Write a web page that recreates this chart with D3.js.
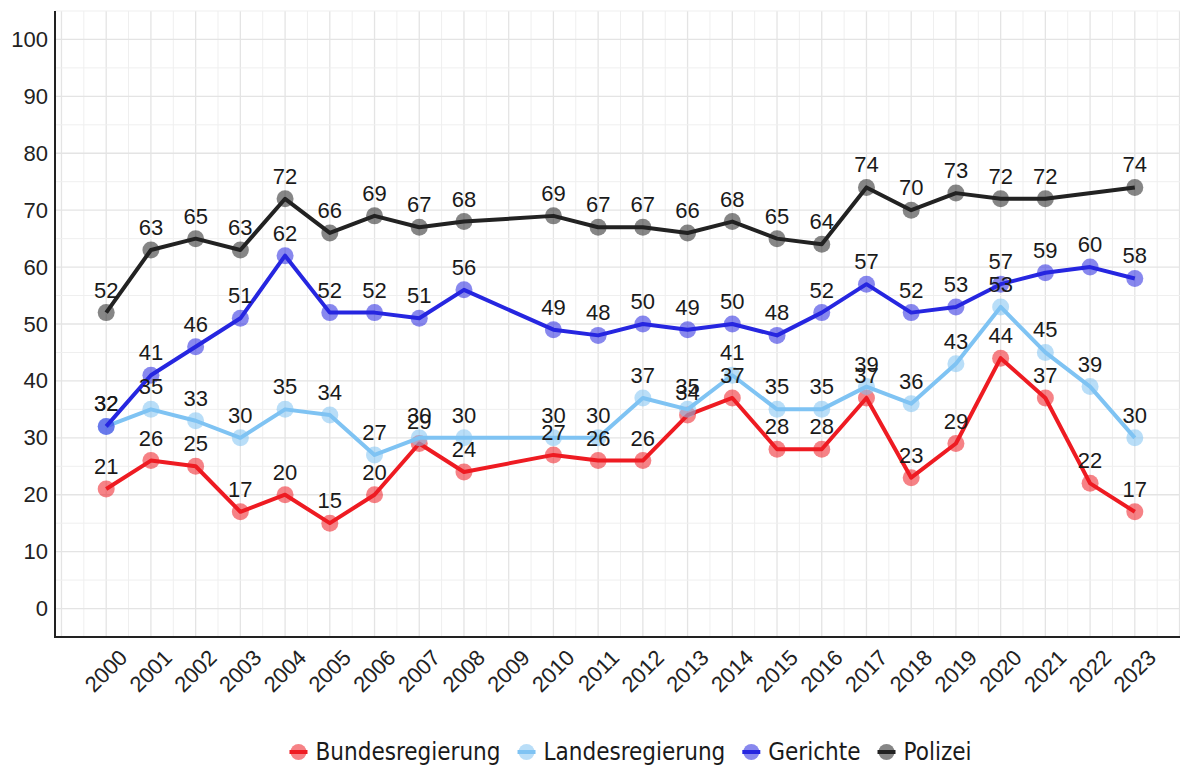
<!DOCTYPE html>
<html>
<head>
<meta charset="utf-8">
<script src="https://cdn.jsdelivr.net/npm/d3@7"></script>
<style>
  body { margin: 0; background: #fff; }
  svg { display: block; }
</style>
</head>
<body>
<script>
// data (2009 has no survey)
const years = ["2000","2001","2002","2003","2004","2005","2006","2007","2008","2009","2010","2011",
               "2012","2013","2014","2015","2016","2017","2018","2019","2020","2021","2022","2023"];
const bundesregierung = [21,26,25,17,20,15,20,29,24,null,27,26,26,34,37,28,28,37,23,29,44,37,22,17];
const landesregierung = [32,35,33,30,35,34,27,30,30,null,30,30,37,35,41,35,35,39,36,43,53,45,39,30];
const gerichte        = [32,41,46,51,62,52,52,51,56,null,49,48,50,49,50,48,52,57,52,53,57,59,60,58];
const polizei         = [52,63,65,63,72,66,69,67,68,null,69,67,67,66,68,65,64,74,70,73,72,72,null,74];
const seriesNames = ["Bundesregierung", "Landesregierung", "Gerichte", "Polizei"];
const yTicks = [0,10,20,30,40,50,60,70,80,90,100];

const series = [
  { name: seriesNames[0], values: bundesregierung, color: "#ee1b22" },
  { name: seriesNames[1], values: landesregierung, color: "#7fc3f3" },
  { name: seriesNames[2], values: gerichte,        color: "#2626e0" },
  { name: seriesNames[3], values: polizei,         color: "#222222" }
];

const W = 1180, H = 767;
const pLeft = 55, pRight = 1184, pTop = 11, pBottom = 637;
const labelFont = "'Liberation Sans', Arial, sans-serif";

const svg = d3.select("body").append("svg")
    .attr("width", W)
    .attr("height", H);

const x = d3.scalePoint()
    .domain(years)
    .range([pLeft + 2, pRight])
    .padding(1.1);

const y = d3.scaleLinear()
    .domain([-5, 105])
    .range([pBottom, pTop]);

// grid: minor lines every 5 / half step, major at ticks
const grid = svg.append("g");
const half = x.step() / 2;
const vLines = [];
for (let v = x(years[0]) - 2 * half; v <= pRight; v += half) vLines.push(v);
grid.selectAll(".vg")
  .data(vLines)
  .join("line")
    .attr("x1", d => d).attr("x2", d => d)
    .attr("y1", pTop).attr("y2", pBottom)
    .attr("stroke", (d, i) => i % 2 === 0 ? "#e4e4e4" : "#efefef")
    .attr("stroke-width", (d, i) => i % 2 === 0 ? 1.3 : 1);
grid.selectAll(".hg")
  .data(d3.range(-5, 106, 5))
  .join("line")
    .attr("x1", pLeft).attr("x2", pRight)
    .attr("y1", d => y(d)).attr("y2", d => y(d))
    .attr("stroke", d => d % 10 === 0 ? "#e4e4e4" : "#efefef")
    .attr("stroke-width", d => d % 10 === 0 ? 1.3 : 1);

// axes
const yAxis = svg.append("g")
    .attr("transform", `translate(${pLeft},0)`)
    .call(d3.axisLeft(y).tickValues(yTicks).tickSize(0).tickPadding(7));
yAxis.select(".domain").remove();
yAxis.selectAll("text")
    .style("font-family", labelFont)
    .style("font-size", "22px")
    .attr("fill", "#222");

const xAxis = svg.append("g")
    .attr("transform", `translate(0,${pBottom})`)
    .call(d3.axisBottom(x).tickSize(0));
xAxis.select(".domain").remove();
xAxis.selectAll("text")
    .style("font-family", labelFont)
    .style("font-size", "22px")
    .attr("fill", "#222")
    .attr("text-anchor", "end")
    .attr("y", 0)
    .attr("dy", 0)
    .attr("transform", "translate(22,22) rotate(-45)");

svg.append("line")
    .attr("x1", pLeft).attr("x2", pLeft)
    .attr("y1", pTop).attr("y2", pBottom)
    .attr("stroke", "#222").attr("stroke-width", 2);
svg.append("line")
    .attr("x1", pLeft - 1).attr("x2", pRight)
    .attr("y1", pBottom).attr("y2", pBottom)
    .attr("stroke", "#222").attr("stroke-width", 2);

// lines and points
const line = d3.line()
    .x(d => x(d.year))
    .y(d => y(d.value));

const pts = s => years.map((yr, i) => ({ year: yr, value: s.values[i] }))
                      .filter(d => d.value !== null);

series.forEach(s => {
  const g = svg.append("g");
  g.append("path")
      .datum(pts(s))
      .attr("fill", "none")
      .attr("stroke", s.color)
      .attr("stroke-width", 4)
      .attr("stroke-linejoin", "round")
      .attr("d", line);
  g.selectAll("circle")
    .data(pts(s))
    .join("circle")
      .attr("cx", d => x(d.year))
      .attr("cy", d => y(d.value))
      .attr("r", 8.5)
      .attr("fill", s.color)
      .attr("fill-opacity", 0.55);
});

// value labels
series.forEach(s => {
  svg.append("g")
    .selectAll("text")
    .data(pts(s))
    .join("text")
      .attr("x", d => x(d.year))
      .attr("y", d => y(d.value) - 15)
      .attr("text-anchor", "middle")
      .style("font-family", labelFont)
      .style("font-size", "22px")
      .attr("fill", "#1a1a1a")
      .text(d => d.value);
});

// legend
const legend = svg.append("g").attr("transform", "translate(0,752)");
const items = legend.selectAll("g")
  .data(series)
  .join("g");
items.append("line")
    .attr("x1", -9).attr("x2", 9)
    .attr("stroke", d => d.color).attr("stroke-width", 4);
items.append("circle")
    .attr("r", 8)
    .attr("fill", d => d.color)
    .attr("fill-opacity", 0.55);
items.append("text")
    .attr("x", 17)
    .attr("dy", "0.35em")
    .style("font-family", "'DejaVu Sans Condensed', 'Liberation Sans Narrow', 'Roboto', sans-serif")
    .style("font-stretch", "condensed")
    .style("font-size", "24px")
    .attr("fill", "#1a1a1a")
    .text(d => d.name);

let cx = 0;
const starts = [];
items.each(function() {
  starts.push(cx);
  const tw = d3.select(this).select("text").node().getComputedTextLength();
  cx += 17 + tw + 26;
});
const total = cx - 26;
const offset = 627 - total / 2 + 8;
items.attr("transform", (d, i) => `translate(${offset + starts[i]},0)`);
</script>
</body>
</html>
